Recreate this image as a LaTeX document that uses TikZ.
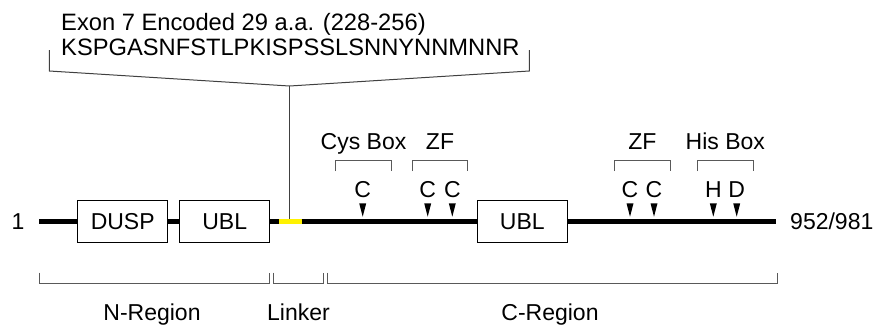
\documentclass[tikz,border=0pt]{standalone}
\usepackage{fontspec}
\setmainfont{Liberation Sans}
\begin{document}
\begin{tikzpicture}[x=1pt,y=-1pt]
\tikzset{dombox/.style={draw, line width=1.4pt, minimum width=90pt, minimum height=42pt, inner sep=0pt, font=\fontsize{23}{27}\selectfont}}
\tikzset{lbl/.style={inner sep=0pt, anchor=base, font=\fontsize{23}{27}\selectfont}}
\tikzset{toplbl/.style={inner sep=0pt, anchor=base west, font=\fontsize{23.7}{28}\selectfont}}
\tikzset{backbone/.style={line width=4.5pt}}
\tikzset{brk/.style={draw=black!65, line width=1pt}}
\useasboundingbox (0,0) rectangle (877,327);
% exon 7 insert
\node[toplbl] (exon) at (61,30) {Exon 7 Encoded 29 a.a. (228-256)};
\node[toplbl] (seq) at (61,55) {KSPGASNFSTLPKISPSSLSNNYNNMNNR};
\draw[draw=black!75, line width=1pt] (49.3,50) -- (49.3,71) -- (289.5,86) -- (529.3,71) -- (529.3,50);
\coordinate (T) at (289.5,86);
\coordinate (B) at (289.5,221.7);
\draw[draw=black!75, line width=1pt] (T) -- (B);
% backbone
\node[lbl] (n1) at (18,229.5) {1};
\node[lbl, anchor=base west] (n2) at (790,229) {952/981};
\coordinate (S) at (39,221.7);
\coordinate (E) at (776,221.7);
\coordinate (Y1) at (279.3,221.7);
\coordinate (Y2) at (301.7,221.7);
\node[dombox] (D1) at (122.7,221.7) {DUSP};
\node[dombox] (U1) at (224.7,221.7) {UBL};
\node[dombox] (U2) at (522.3,221.7) {UBL};
\draw[backbone] (S) -- (D1.west);
\draw[backbone] (D1.east) -- (U1.west);
\draw[backbone] (U1.east) -- (Y1);
\draw[backbone, yellow] (Y1) -- (Y2);
\draw[backbone] (Y2) -- (U2.west);
\draw[backbone] (U2.east) -- (E);
% residues
\node[lbl] (R1) at (362.7,197.3) {C};
\node[lbl] (R2) at (427.7,197.3) {C};
\node[lbl] (R3) at (452.3,197.3) {C};
\node[lbl] (R4) at (630,197.3) {C};
\node[lbl] (R5) at (654,197.3) {C};
\node[lbl] (R6) at (713.3,197.3) {H};
\node[lbl] (R7) at (736.7,197.3) {D};
\fill (359.2,203.3) -- (366.2,203.3) -- (362.7,216.7) -- cycle;
\fill (424.2,203.3) -- (431.2,203.3) -- (427.7,216.7) -- cycle;
\fill (448.8,203.3) -- (455.8,203.3) -- (452.3,216.7) -- cycle;
\fill (626.5,203.3) -- (633.5,203.3) -- (630,216.7) -- cycle;
\fill (650.5,203.3) -- (657.5,203.3) -- (654,216.7) -- cycle;
\fill (709.8,203.3) -- (716.8,203.3) -- (713.3,216.7) -- cycle;
\fill (733.2,203.3) -- (740.2,203.3) -- (736.7,216.7) -- cycle;
% motif brackets
\node[lbl] (cys) at (363.5,149.3) {Cys Box};
\node[lbl] (zf1) at (440,149.3) {ZF};
\node[lbl] (zf2) at (642.3,149.3) {ZF};
\node[lbl] (his) at (725.3,149.3) {His Box};
\draw[brk] (335.7,171) -- (335.7,160.7) -- (391.3,160.7) -- (391.3,171);
\draw[brk] (412.3,171) -- (412.3,160.7) -- (467.7,160.7) -- (467.7,171);
\draw[brk] (614.7,171) -- (614.7,160.7) -- (670,160.7) -- (670,171);
\draw[brk] (697.3,171) -- (697.3,160.7) -- (753.3,160.7) -- (753.3,171);
% regions
\draw[brk] (39,272.7) -- (39,283.3) -- (269.3,283.3) -- (269.3,272.7);
\draw[brk] (273.3,272.7) -- (273.3,283.3) -- (323.8,283.3) -- (323.8,272.7);
\draw[brk] (327.6,272.7) -- (327.6,283.3) -- (777,283.3) -- (777,272.7);
\node[lbl] (nreg) at (152,320.7) {N-Region};
\node[lbl] (link) at (298.5,320.7) {Linker};
\node[lbl] (creg) at (550,320.7) {C-Region};
\end{tikzpicture}
\end{document}
